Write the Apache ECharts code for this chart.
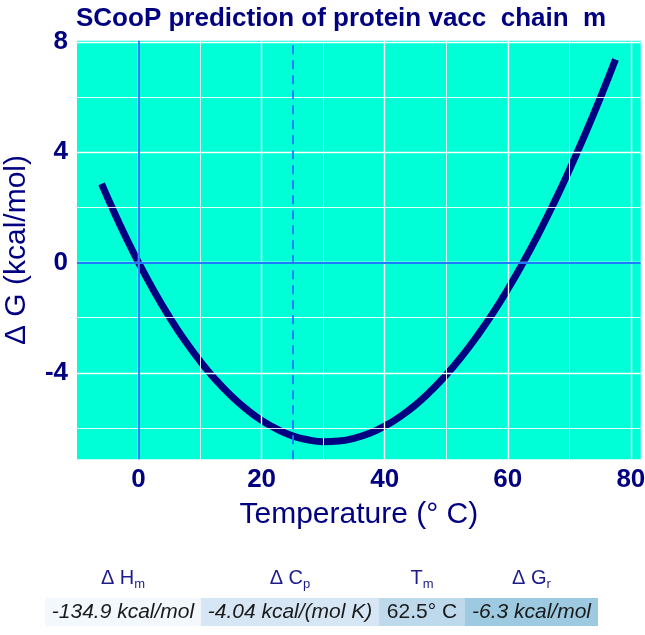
<!DOCTYPE html>
<html><head><meta charset="utf-8">
<script src="https://cdn.jsdelivr.net/npm/echarts@6/dist/echarts.min.js"></script>
<style>html,body{margin:0;padding:0;background:#fff}#c{width:645px;height:635px}</style>
</head><body><div id="c"></div>
<script>
// ---- data ----
const titleText = 'SCooP prediction of protein vacc  chain  m';
const temperature = [-6, -4, -2, 0, 2.5, 5, 7.5, 10, 12.5, 15, 17.5, 20, 22.5, 25, 27.5, 30, 32.5, 35, 37.5, 40, 42.5, 45, 47.5, 50, 52.5, 55, 57.5, 60, 62.5, 65, 67.5, 70, 72.5, 75, 77.5];
const deltaG = [2.85, 1.84, 0.89, 0.00, -1.03, -1.97, -2.82, -3.57, -4.24, -4.82, -5.31, -5.72, -6.04, -6.28, -6.42, -6.49, -6.47, -6.37, -6.19, -5.93, -5.58, -5.16, -4.65, -4.07, -3.41, -2.67, -1.86, -0.97, 0.00, 1.04, 2.16, 3.35, 4.62, 5.95, 7.36];
const xTicks = [0, 20, 40, 60, 80];
const xMinor = [10, 30, 50, 70];
const yTicks = [-4, 0, 4, 8];
const yMinor = [-6, -2, 2, 6];
const refTemperature = [25];
const zeroLines = [0];
const tableHeaders = [['Δ H', 'm'], ['Δ C', 'p'], ['T', 'm'], ['Δ G', 'r']];
const tableValues = ['-134.9 kcal/mol', '-4.04 kcal/(mol K)', '62.5° C', '-6.3 kcal/mol'];
const tableItalic = [true, true, false, true];

// ---- layout / style ----
const FONT = 'Liberation Sans';
const NAVY = '#000080';
const BLUE = '#1E7BFF';
const cellEdges = [45, 201, 379, 465, 598];
const cellColors = ['#F3F8FD', '#D6E6F4', '#BED8EC', '#9DCAE0'];
const rowTop = 598, rowH = 28, headerY = 578;

const chart = echarts.init(document.getElementById('c'), null, {renderer: 'canvas'});

const noSym = ['none', 'none'];
function lines(axis, vals, style) {
  return vals.map(v => ({[axis]: v, lineStyle: style}));
}

const graphic = [];
tableValues.forEach((v, i) => {
  const x0 = cellEdges[i], x1 = cellEdges[i + 1];
  graphic.push({type: 'rect', shape: {x: x0, y: rowTop, width: x1 - x0, height: rowH},
    style: {fill: cellColors[i]}, silent: true});
  graphic.push({type: 'text', x: (x0 + x1) / 2, y: rowTop + rowH / 2, silent: true,
    style: {text: v, font: (tableItalic[i] ? 'italic ' : '') + '21px "' + FONT + '"',
      fill: '#1a1a1a', align: 'center', verticalAlign: 'middle'}});
  graphic.push({type: 'text', x: (x0 + x1) / 2, y: headerY, silent: true,
    style: {text: '{a|' + tableHeaders[i][0] + '}{s|' + tableHeaders[i][1] + '}',
      align: 'center', verticalAlign: 'middle',
      rich: {
        a: {fontFamily: FONT, fontSize: 20, fill: '#1c1c8c', color: '#1c1c8c', lineHeight: 26, verticalAlign: 'middle'},
        s: {fontFamily: FONT, fontSize: 13, fill: '#1c1c8c', color: '#1c1c8c', lineHeight: 13, verticalAlign: 'bottom'}
      }}});
});

const option = {
  animation: false,
  title: {text: titleText, left: 71, top: 1,
    textStyle: {fontFamily: FONT, fontSize: 26, fontWeight: 'bold', color: NAVY}},
  grid: {left: 77, top: 40.7, right: 4.3, bottom: 175.7, show: true,
    containLabel: false, outerBoundsMode: 'none',
    backgroundColor: '#00FFD7', borderWidth: 0},
  xAxis: {type: 'value', min: -10, max: 81.6,
    name: 'Temperature (° C)', nameLocation: 'middle', nameGap: 40,
    nameTextStyle: {fontFamily: FONT, fontSize: 30, color: NAVY},
    axisLine: {show: false}, splitLine: {show: false},
    axisTick: {show: true, length: 4, customValues: xTicks, lineStyle: {color: '#444', width: 1}},
    axisLabel: {customValues: xTicks, margin: 8, fontFamily: FONT, fontSize: 26, fontWeight: 'bold', color: NAVY}},
  yAxis: {type: 'value', min: -7.13, max: 8.04,
    name: 'Δ G (kcal/mol)', nameLocation: 'middle', nameGap: 45, nameRotate: 90,
    nameTextStyle: {fontFamily: FONT, fontSize: 30, color: NAVY},
    axisLine: {show: false}, splitLine: {show: false},
    axisTick: {show: true, length: 4, customValues: yTicks, lineStyle: {color: '#444', width: 1}},
    axisLabel: {customValues: yTicks, margin: 9, fontFamily: FONT, fontSize: 26, fontWeight: 'bold', color: NAVY}},
  series: [
    {type: 'line', data: [], z: 1, silent: true,
      markLine: {silent: true, symbol: noSym, label: {show: false}, animation: false,
        emphasis: {disabled: true},
        data: [].concat(
          lines('xAxis', xTicks, {color: '#fff', width: 1.4, type: 'solid'}),
          lines('xAxis', xMinor, {color: '#fff', width: 0.9, type: 'solid'}),
          lines('yAxis', yTicks, {color: '#fff', width: 1.4, type: 'solid'}),
          lines('yAxis', yMinor, {color: '#fff', width: 0.9, type: 'solid'}))}},
    {type: 'line', data: [], z: 2, silent: true,
      markLine: {silent: true, symbol: noSym, label: {show: false}, animation: false,
        emphasis: {disabled: true},
        data: [].concat(
          lines('xAxis', zeroLines, {color: BLUE, width: 1.8, type: 'solid'}),
          lines('yAxis', zeroLines, {color: BLUE, width: 1.8, type: 'solid'}),
          lines('xAxis', refTemperature, {color: BLUE, width: 1.8, type: [9, 6]}))}},
    {type: 'line', z: 3, silent: true, smooth: true, showSymbol: false,
      data: temperature.map((t, i) => [t, deltaG[i]]),
      lineStyle: {color: NAVY, width: 7, cap: 'butt'}}
  ],
  graphic: graphic
};
chart.setOption(option);
</script>
</body></html>
